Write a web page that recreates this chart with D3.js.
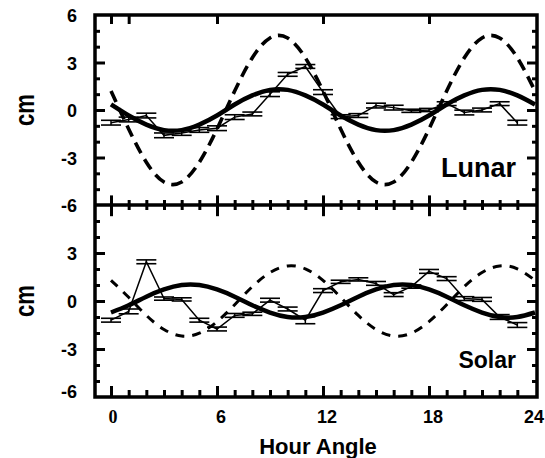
<!DOCTYPE html>
<html>
<head>
<meta charset="utf-8">
<script src="https://cdn.jsdelivr.net/npm/d3@7.9.0/dist/d3.min.js"></script>
<style>
  body { margin: 0; background: #fff; }
  text { font-family: "Liberation Sans", Arial, sans-serif; font-weight: bold; fill: #000; }
</style>
</head>
<body>
<svg id="chart" width="545" height="458"></svg>
<script>
// observation hours and model hours
const obsHours = [0, 1, 2, 3, 4, 5, 6, 7, 8, 9, 10, 11, 12, 13, 14, 15, 16, 17, 18, 19, 20, 21, 22, 23];
const fitHours = [0, 1, 2, 3, 4, 5, 6, 7, 8, 9, 10, 11, 12, 13, 14, 15, 16, 17, 18, 19, 20, 21, 22, 23, 24];

// Lunar panel
const lunarObs = [-0.8, -0.6, -0.35, -1.6, -1.45, -1.26, -1.15, -0.45, -0.25, 1.0, 2.25, 2.75,
  1.13, -0.42, -0.35, 0.28, 0.15, -0.05, 0.0, 0.4, -0.16, 0.0, 0.4, -0.8];
const lunarErr = [0.15, 0.15, 0.15, 0.15, 0.15, 0.15, 0.15, 0.15, 0.12, 0.15, 0.12, 0.12,
  0.15, 0.12, 0.12, 0.15, 0.15, 0.1, 0.1, 0.12, 0.15, 0.12, 0.12, 0.15];
const lunarFit = [0.35, -0.35, -0.92, -1.27, -1.27, -0.92, -0.35, 0.35, 0.92, 1.27, 1.27, 0.92,
  0.35, -0.35, -0.92, -1.27, -1.27, -0.92, -0.35, 0.35, 0.92, 1.27, 1.27, 0.92, 0.35];
const lunarTide = [1.2, -1.2, -3.3, -4.55, -4.55, -3.3, -1.2, 1.2, 3.3, 4.55, 4.55, 3.3,
  1.2, -1.2, -3.3, -4.55, -4.55, -3.3, -1.2, 1.2, 3.3, 4.55, 4.55, 3.3, 1.2];

// Solar panel
const solarObs = [-1.2, -0.65, 2.45, 0.15, 0.1, -1.2, -1.75, -0.9, -0.8, 0.05, -0.5, -1.2,
  0.65, 1.2, 1.35, 1.1, 0.4, 0.9, 1.85, 1.4, 0.15, 0.1, -1.0, -1.5];
const solarErr = [0.12, 0.15, 0.12, 0.1, 0.1, 0.12, 0.12, 0.12, 0.1, 0.12, 0.12, 0.22,
  0.12, 0.1, 0.1, 0.12, 0.12, 0.1, 0.12, 0.12, 0.12, 0.12, 0.15, 0.15];
const solarFit = [-0.72, -0.27, 0.27, 0.72, 1.0, 1.0, 0.72, 0.27, -0.27, -0.72, -1.0, -1.0,
  -0.72, -0.27, 0.27, 0.72, 1.0, 1.0, 0.72, 0.27, -0.27, -0.72, -1.0, -1.0, -0.72];
const solarTide = [1.29, 0.23, -0.9, -1.78, -2.19, -2.01, -1.29, -0.23, 0.9, 1.78, 2.19, 2.01,
  1.29, 0.23, -0.9, -1.78, -2.19, -2.01, -1.29, -0.23, 0.9, 1.78, 2.19, 2.01, 1.29];

const xTickLabels = ['0', '6', '12', '18', '24'];

const svg = d3.select('#chart');

const frame = { left: 95, right: 537, top: 15, mid: 205, bottom: 397 };

const x = d3.scaleLinear().domain([0, 24]).range([111, 535]);

const panels = [
  { name: 'Lunar', obs: lunarObs, err: lunarErr, fit: lunarFit, tide: lunarTide,
    y: d3.scaleLinear().domain([-6, 6]).range([frame.mid, frame.top]),
    labels: [6, 3, 0, -3, -6], dash: '12 7', dashW: 3.6 },
  { name: 'Solar', obs: solarObs, err: solarErr, fit: solarFit, tide: solarTide,
    y: d3.scaleLinear().domain([-6, 6]).range([frame.bottom, frame.mid]),
    labels: [3, 0, -3, -6], dash: '9 8', dashW: 3 }
];

svg.append('clipPath').attr('id', 'plotclip')
  .append('rect')
  .attr('x', frame.left).attr('y', frame.top)
  .attr('width', frame.right - frame.left)
  .attr('height', frame.bottom - frame.top);

function styleAxis(g, w) {
  g.select('.domain').remove();
  g.selectAll('.tick text').remove();
  g.selectAll('.tick line').attr('stroke', '#000').attr('stroke-width', w);
}

const hourTicks = d3.range(0, 25);
const cmTicks = d3.range(-6, 7);

panels.forEach((p, i) => {
  const y = p.y;
  const plot = svg.append('g').attr('clip-path', 'url(#plotclip)');

  // dashed tidal curve
  plot.append('path')
    .datum(fitHours.map((h, j) => [h, p.tide[j]]))
    .attr('fill', 'none')
    .attr('stroke', '#000')
    .attr('stroke-width', p.dashW)
    .attr('stroke-dasharray', p.dash)
    .attr('d', d3.line().x(d => x(d[0])).y(d => y(d[1])).curve(d3.curveNatural));

  // thin observation line
  plot.append('path')
    .datum(obsHours.map((h, j) => [h, p.obs[j]]))
    .attr('fill', 'none')
    .attr('stroke', '#000')
    .attr('stroke-width', 1.5)
    .attr('d', d3.line().x(d => x(d[0])).y(d => y(d[1])));

  // error bars
  const bars = plot.append('g').selectAll('g')
    .data(obsHours.map((h, j) => ({ h, v: p.obs[j], e: p.err[j] })))
    .join('g');

  bars.append('line')
    .attr('x1', d => x(d.h)).attr('x2', d => x(d.h))
    .attr('y1', d => y(d.v + d.e)).attr('y2', d => y(d.v - d.e))
    .attr('stroke', '#000').attr('stroke-width', 1.5);

  [1, -1].forEach(s => {
    bars.append('line')
      .attr('x1', d => x(d.h) - 10).attr('x2', d => x(d.h) + 10)
      .attr('y1', d => y(d.v + s * d.e)).attr('y2', d => y(d.v + s * d.e))
      .attr('stroke', '#000').attr('stroke-width', 1.6);
  });

  // thick fitted curve
  plot.append('path')
    .datum(fitHours.map((h, j) => [h, p.fit[j]]))
    .attr('fill', 'none')
    .attr('stroke', '#000')
    .attr('stroke-width', 4.5)
    .attr('d', d3.line().x(d => x(d[0])).y(d => y(d[1])).curve(d3.curveNatural));

  // left / right ticks
  svg.append('g')
    .attr('transform', `translate(${frame.left},0)`)
    .call(d3.axisRight(y).tickValues(cmTicks.filter(v => v % 3 !== 0)).tickSize(5))
    .call(g => styleAxis(g, 3));
  svg.append('g')
    .attr('transform', `translate(${frame.left},0)`)
    .call(d3.axisRight(y).tickValues([-3, 0, 3]).tickSize(10))
    .call(g => styleAxis(g, 3));
  svg.append('g')
    .attr('transform', `translate(${frame.right},0)`)
    .call(d3.axisLeft(y).tickValues(cmTicks.filter(v => v % 3 !== 0)).tickSize(5))
    .call(g => styleAxis(g, 3));
  svg.append('g')
    .attr('transform', `translate(${frame.right},0)`)
    .call(d3.axisLeft(y).tickValues([-3, 0, 3]).tickSize(10))
    .call(g => styleAxis(g, 3));

  // y labels
  svg.append('g').selectAll('text')
    .data(p.labels)
    .join('text')
    .attr('x', 77)
    .attr('y', d => y(d) + (d === -6 && i === 1 ? 1 : 7))
    .attr('text-anchor', 'end')
    .style('font-size', '18px')
    .text(d => d);

  svg.append('text')
    .attr('transform', `translate(34,${(y(6) + y(-6)) / 2}) rotate(-90)`)
    .attr('text-anchor', 'middle')
    .attr('textLength', 32)
    .attr('lengthAdjust', 'spacingAndGlyphs')
    .style('font-size', '27px')
    .text('cm');

  // panel name
  svg.append('text')
    .attr('x', 516)
    .attr('y', i === 0 ? 177 : 368)
    .attr('text-anchor', 'end')
    .style('font-size', i === 0 ? '27px' : '23px')
    .text(p.name);
});

// top edge ticks
svg.append('g')
  .attr('transform', `translate(0,${frame.top})`)
  .call(d3.axisBottom(x).tickValues([0, 1, 6, 12, 18]).tickSize(9))
  .call(g => styleAxis(g, 3));

// middle separator ticks, both sides
[[7, 5], [-6, -5]].forEach(([big, small]) => {
  svg.append('g')
    .attr('transform', `translate(0,${frame.mid})`)
    .call(d3.axisBottom(x).tickValues(hourTicks.filter(h => h % 6 !== 0)).tickSize(small))
    .call(g => styleAxis(g, 3));
  svg.append('g')
    .attr('transform', `translate(0,${frame.mid})`)
    .call(d3.axisBottom(x).tickValues([0, 6, 12, 18]).tickSize(big * 1.6))
    .call(g => styleAxis(g, 3));
});

// bottom edge ticks (inward)
svg.append('g')
  .attr('transform', `translate(0,${frame.bottom})`)
  .call(d3.axisTop(x).tickValues(hourTicks.filter(h => h % 6 !== 0)).tickSize(7))
  .call(g => styleAxis(g, 3));
svg.append('g')
  .attr('transform', `translate(0,${frame.bottom})`)
  .call(d3.axisTop(x).tickValues([0, 6, 12, 18]).tickSize(11))
  .call(g => styleAxis(g, 3));

// frame
svg.append('rect')
  .attr('x', frame.left).attr('y', frame.top)
  .attr('width', frame.right - frame.left)
  .attr('height', frame.bottom - frame.top)
  .attr('fill', 'none').attr('stroke', '#000').attr('stroke-width', 3.5);
svg.append('line')
  .attr('x1', frame.left).attr('x2', frame.right)
  .attr('y1', frame.mid).attr('y2', frame.mid)
  .attr('stroke', '#000').attr('stroke-width', 3.5);

// x tick labels (last one kept inside the window)
svg.append('g').selectAll('text')
  .data(xTickLabels)
  .join('text')
  .attr('x', (d, i) => i === 4 ? 544 : x(i * 6) + (i === 0 ? 2 : 4))
  .attr('y', 423)
  .attr('text-anchor', (d, i) => i === 4 ? 'end' : 'middle')
  .style('font-size', '18px')
  .style('font-family', (d, i) => i === 0 ? '"Liberation Serif", "Times New Roman", serif' : null)
  .text(d => d);

svg.append('text')
  .attr('x', 318)
  .attr('y', 454)
  .attr('text-anchor', 'middle')
  .style('font-size', '22px')
  .text('Hour Angle');
</script>
</body>
</html>
